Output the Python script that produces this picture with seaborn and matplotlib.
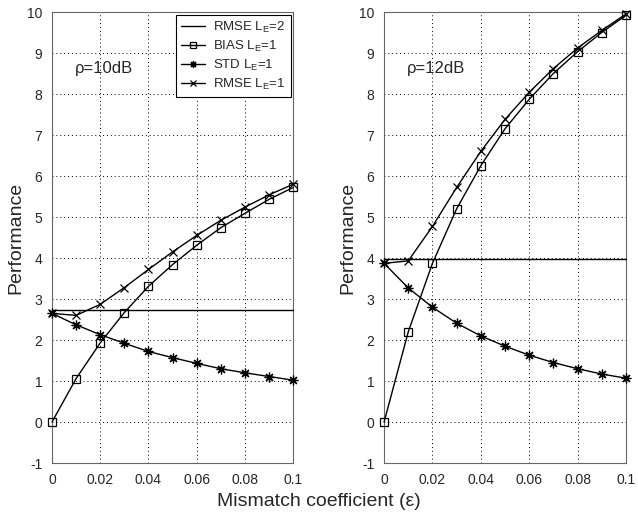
import matplotlib
matplotlib.use("Agg")
import matplotlib.pyplot as plt
import seaborn as sns
import pandas as pd

eps = [0.0, 0.01, 0.02, 0.03, 0.04, 0.05, 0.06, 0.07, 0.08, 0.09, 0.1]

# rho = 10 dB
rmse2_10 = [2.73] * 11
bias_10 = [0.0, 1.06, 1.93, 2.67, 3.31, 3.84, 4.31, 4.74, 5.09, 5.43, 5.72]
std_10 = [2.65, 2.37, 2.13, 1.92, 1.72, 1.57, 1.43, 1.30, 1.20, 1.11, 1.02]
rmse1_10 = [2.65, 2.60, 2.87, 3.28, 3.72, 4.15, 4.55, 4.92, 5.24, 5.54, 5.80]

# rho = 12 dB
rmse2_12 = [3.98] * 11
bias_12 = [0.0, 2.20, 3.87, 5.20, 6.25, 7.15, 7.87, 8.50, 9.03, 9.50, 9.92]
std_12 = [3.87, 3.27, 2.80, 2.41, 2.10, 1.85, 1.63, 1.45, 1.30, 1.17, 1.07]
rmse1_12 = [3.87, 3.93, 4.77, 5.72, 6.60, 7.38, 8.04, 8.62, 9.12, 9.55, 9.95]

labels = ["RMSE L$_E$=2", "BIAS L$_E$=1", "STD L$_E$=1", "RMSE L$_E$=1"]
panel_titles = ["\u03c1=10dB", "\u03c1=12dB"]
xticks = [0, 0.02, 0.04, 0.06, 0.08, 0.1]
xticklabels = ["0", "0.02", "0.04", "0.06", "0.08", "0.1"]
yticks = list(range(-1, 11))

sns.set_style("white")
plt.rcParams['font.family'] = ['Liberation Sans', 'DejaVu Sans']
plt.rcParams['mathtext.fontset'] = 'custom'
plt.rcParams['mathtext.rm'] = 'Liberation Sans'
plt.rcParams['mathtext.it'] = 'Liberation Sans'
plt.rcParams['axes.unicode_minus'] = False

fig = plt.figure(figsize=(6.38, 5.22), dpi=100)
ax1 = fig.add_axes([0.0815, 0.113, 0.378, 0.864])
ax2 = fig.add_axes([0.602, 0.113, 0.379, 0.864])

styles = [
    dict(marker=None),
    dict(marker='s', markersize=6, markerfacecolor='none', markeredgecolor='black', markeredgewidth=0.9),
    dict(marker=(8, 2, 0), markersize=7, markeredgecolor='black', markeredgewidth=0.9),
    dict(marker='x', markersize=6, markeredgecolor='black', markeredgewidth=0.9),
]

panels = [
    (ax1, [rmse2_10, bias_10, std_10, rmse1_10], panel_titles[0]),
    (ax2, [rmse2_12, bias_12, std_12, rmse1_12], panel_titles[1]),
]

for i, (ax, series, title) in enumerate(panels):
    for lab, ys, st in zip(labels, series, styles):
        df = pd.DataFrame({"eps": eps, "val": ys})
        sns.lineplot(data=df, x="eps", y="val", ax=ax, color="black", linewidth=1.0,
                     label=lab if i == 0 else None, legend=False, clip_on=False, zorder=3, **st)
    ax.set_xlim(0, 0.1)
    ax.set_ylim(-1, 10)
    ax.set_xticks(xticks)
    ax.set_xticklabels(xticklabels)
    ax.set_yticks(yticks)
    ax.grid(True, color="black", linestyle=(0, (1, 3)), linewidth=0.7)
    ax.tick_params(direction='in', length=4, labelsize=10, color='#444444', pad=7)
    for sp in ax.spines.values():
        sp.set_color('#666666')
        sp.set_linewidth(0.8)
    ax.set_xlabel("")
    ax.set_ylabel("Performance", fontsize=14, labelpad=2)
    ax.text(0.0095, 8.62, title, fontsize=12, ha='left', va='center')

leg = ax1.legend(loc='upper right', fontsize=9.5, frameon=True, fancybox=False,
                 edgecolor='black', framealpha=1, handlelength=1.8, borderpad=0.4,
                 labelspacing=0.3, borderaxespad=0.2, handletextpad=0.6)
leg.get_frame().set_linewidth(0.8)
for h in leg.legend_handles:
    h.set_markersize(5)

fig.text(0.5, 0.04, "Mismatch coefficient (\u03b5)", ha='center', va='center', fontsize=14)

fig.savefig("out.png", dpi=100)
